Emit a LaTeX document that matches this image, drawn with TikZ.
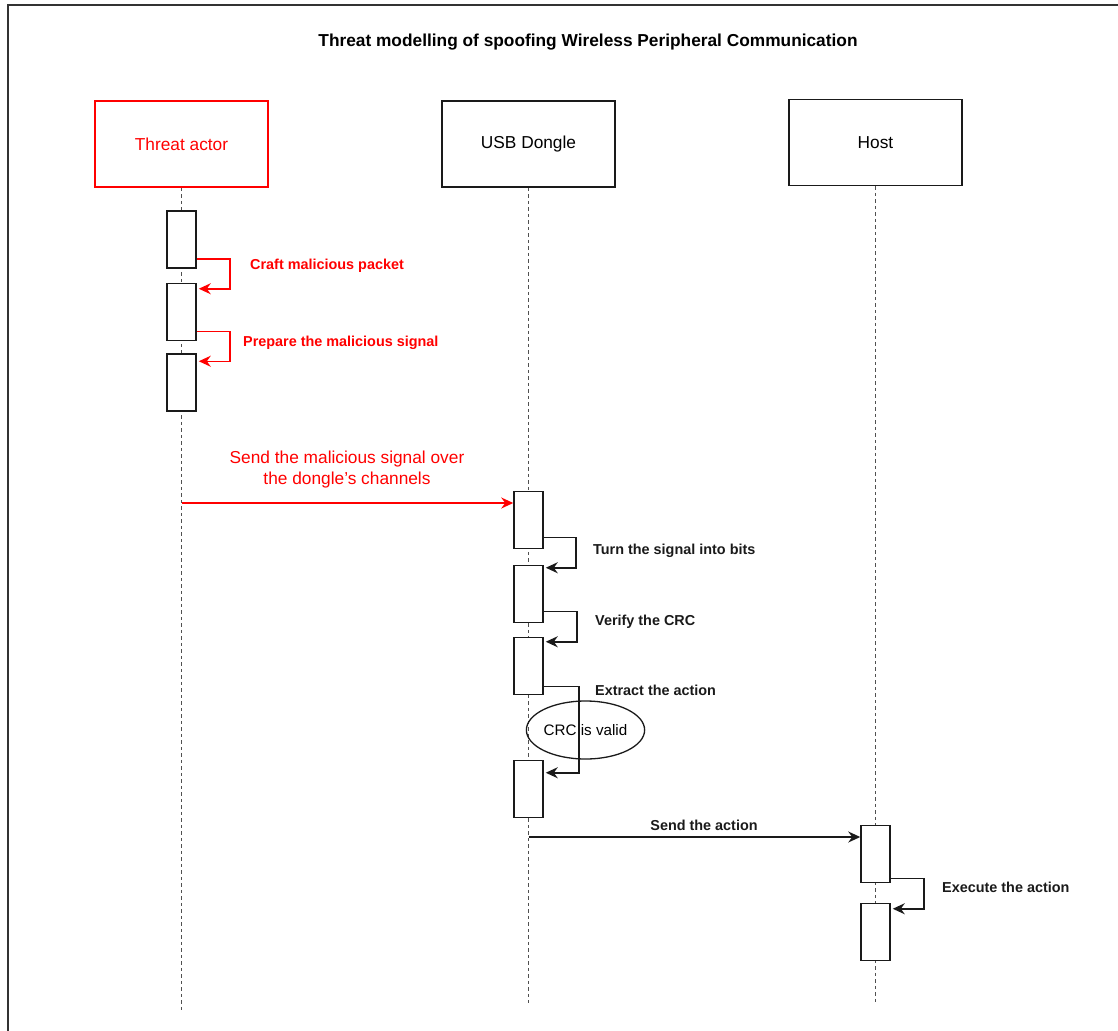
\documentclass[tikz,border=0pt]{standalone}
\usepackage{fontspec}
\setmainfont{Liberation Sans}
\usepackage{xcolor}
\definecolor{cMain}{HTML}{1A1A1A}
\definecolor{cThreat}{HTML}{FF0000}
\definecolor{cGray}{HTML}{505050}
\definecolor{cFrame}{HTML}{333333}
\usetikzlibrary{positioning,arrows.meta,shapes.geometric}
\tikzset{
  node-head/.style={draw=cMain,line width=1.5pt,minimum width=173pt,minimum height=86pt,
    inner sep=0pt,font=\fontsize{17.3}{20}\selectfont},
  node-threat/.style={draw=cThreat,text=cThreat},
  node-act/.style={draw=cMain,line width=1.5pt,fill=white,minimum width=29pt,
    minimum height=57pt,inner sep=0pt},
  node-label/.style={anchor=west,inner sep=0pt,text=cMain,
    font=\bfseries\fontsize{14.4}{17}\selectfont},
  node-cond/.style={draw=cMain,line width=1.3pt,ellipse,minimum width=116pt,minimum height=58pt,
    inner sep=0pt,font=\fontsize{15.2}{18}\selectfont},
  arrow/.style={-{Stealth[length=12pt,width=11pt]},line width=1.5pt,draw=cMain,shorten >=2pt},
  arrow-threat/.style={arrow,draw=cThreat},
  lifeline/.style={dash pattern=on 3.5pt off 3pt,line width=1.4pt,draw=cGray},
}

\begin{document}
\begin{tikzpicture}[x=1pt,y=-1pt]
  \clip (0,0) rectangle (1118,1030);
  \draw[cFrame,line width=2pt] (8,1040) -- (8,5) -- (1130,5);
  \node[font=\bfseries\fontsize{17.3}{20}\selectfont] (title) at (588,42)
    {Threat modelling of spoofing Wireless Peripheral Communication};

  % lifeline heads
  \node[node-head,node-threat] (actor)  at (181.5,144)   {Threat actor};
  \node[node-head]             (dongle) at (528.5,144)   {USB Dongle};
  \node[node-head]             (host)   at (875.5,142.5) {Host};
  \coordinate (actor-end)  at (181.5,1012);
  \coordinate (dongle-end) at (528.5,1003);
  \coordinate (host-end)   at (875.5,1003);
  \draw[lifeline] (actor)  -- (actor-end);
  \draw[lifeline] (dongle) -- (dongle-end);
  \draw[lifeline] (host)   -- (host-end);

  % activations
  \node[node-act] (a1) at (181.5,239.5) {};
  \node[node-act] (a2) at (181.5,312)   {};
  \node[node-act] (a3) at (181.5,382.5) {};
  \node[node-act] (d1) at (528.5,520)   {};
  \node[node-act] (d2) at (528.5,594)   {};
  \node[node-act] (d3) at (528.5,666)   {};
  \node[node-act] (d4) at (528.5,789)   {};
  \node[node-act] (h1) at (875.5,854)   {};
  \node[node-act] (h2) at (875.5,932)   {};

  % threat actor steps
  \draw[arrow-threat] ([yshift=10pt]a1.south east) -- ++(33,0) |- ([yshift=-6pt]a2.north east);
  \node[node-label,text=cThreat] (craft) at (250,266) {Craft malicious packet};
  \draw[arrow-threat] ([yshift=10pt]a2.south east) -- ++(33,0) |- ([yshift=-8pt]a3.north east);
  \node[node-label,text=cThreat] (prep) at (243,343) {Prepare the malicious signal};

  \coordinate (send-start) at (181.5,503);
  \draw[arrow-threat,shorten >=0pt] (send-start) -- (d1.west |- send-start);
  \node[align=center,text=cThreat,font=\fontsize{17.3}{21}\selectfont] (send) at (347,469.5)
    {Send the malicious signal over\\the dongle's channels};

  % dongle steps
  \draw[arrow] ([yshift=12pt]d1.south east) -- ++(32,0) |- ([yshift=-3pt]d2.north east);
  \node[node-label] (bits) at (593,551) {Turn the signal into bits};
  \draw[arrow] ([yshift=12pt]d2.south east) -- ++(33,0) |- ([yshift=-5pt]d3.north east);
  \node[node-label] (crc) at (595,622) {Verify the CRC};
  \node[node-cond] (valid) at (585.5,730) {CRC is valid};
  \draw[arrow] ([yshift=9pt]d3.south east) -- ++(35,0) |- ([yshift=-13pt]d4.north east);
  \node[node-label] (extract) at (595,690) {Extract the action};

  \coordinate (act-start) at (528.5,837);
  \draw[arrow,shorten >=0pt] (act-start) -- (h1.west |- act-start);
  \node[node-label,anchor=center] (sendact) at (704,825) {Send the action};

  % host step
  \draw[arrow] ([yshift=5pt]h1.south east) -- ++(33,0) |- ([yshift=-6pt]h2.north east);
  \node[node-label] (exec) at (942,887) {Execute the action};
\end{tikzpicture}
\end{document}
